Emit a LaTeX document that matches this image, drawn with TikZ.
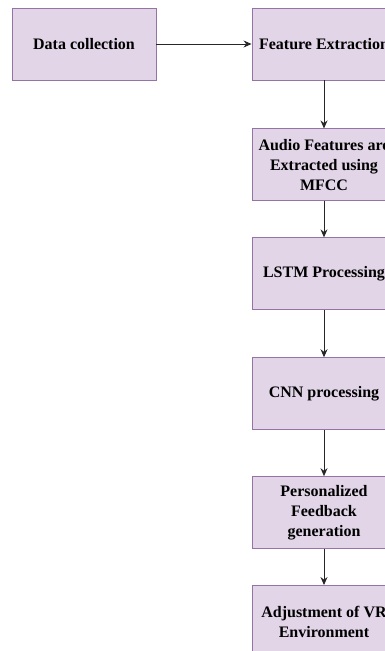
\documentclass[tikz,border=0pt]{standalone}
\usepackage{fontspec}
\setmainfont{Liberation Serif}
\usetikzlibrary{positioning,arrows.meta}
\definecolor{boxfill}{HTML}{E1D5E7}
\definecolor{boxline}{HTML}{9673A6}
\begin{document}
\begin{tikzpicture}
[font=\fontsize{16}{20}\selectfont\bfseries,
       stepbox/.style={draw=boxline, fill=boxfill, line width=0.9pt,
                       minimum width=144pt, minimum height=72pt,
                       inner sep=0pt, align=center},
       flow/.style={draw=black!85, line width=0.9pt, -{Stealth[length=8pt,width=7pt]}}]
  \useasboundingbox (0,0) rectangle (385pt,-651pt);
  \clip (0,0) rectangle (385pt,-651pt);
  \node[stepbox] (data) at (84pt,-44pt) {Data collection}; % start
  \node[stepbox] (feature) at (324pt,-44pt) {Feature Extraction};
  \node[stepbox, below=48pt of feature] (audio) {Audio Features are\\Extracted using\\MFCC};
  \node[stepbox, below=36pt of audio] (lstm) {LSTM Processing};
  \node[stepbox, below=47pt of lstm] (cnn) {CNN processing};
  \node[stepbox, below=46pt of cnn] (feedback) {Personalized\\Feedback\\generation};
  \node[stepbox, below=36pt of feedback] (vradjust) {Adjustment of VR\\Environment};
  % connectors
  \draw[flow] (data) -- (feature);
  \draw[flow] (feature) -- (audio);
  \draw[flow] (audio) -- (lstm);
  \draw[flow] (lstm) -- (cnn);
  \draw[flow] (cnn) -- (feedback);
  \draw[flow] (feedback) -- (vradjust);
\end{tikzpicture}
\end{document}
